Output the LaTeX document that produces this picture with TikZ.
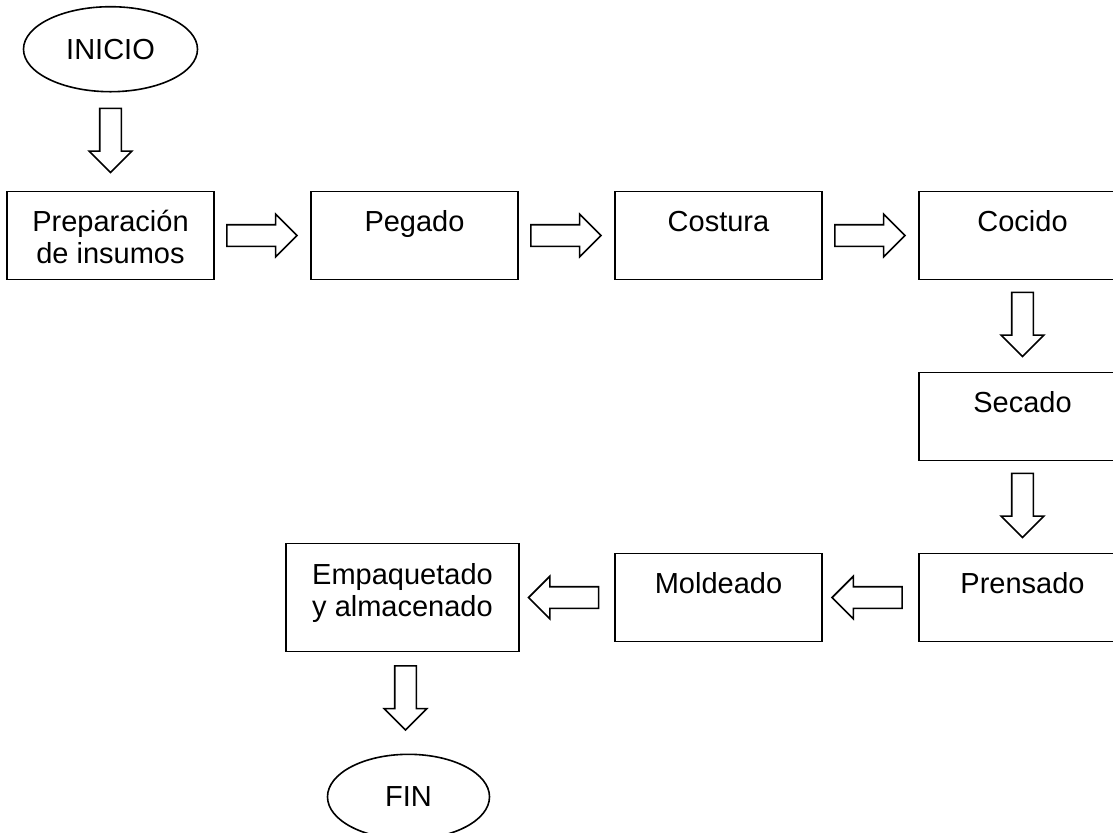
\documentclass[tikz,border=0pt]{standalone}
\usepackage{fontspec}
\setmainfont{Liberation Sans}
\usetikzlibrary{positioning,calc,shapes.geometric,shapes.arrows}

\begin{document}
\begin{tikzpicture}[font=\fontsize{14.5}{16}\selectfont,line width=0.8pt,node distance=48.5pt,
				stage/.style={draw,rectangle,minimum width=103.5pt,inner sep=0pt,outer sep=0pt,align=center,text height=20pt,text depth=24pt},
				twoline/.style={stage,text height=36pt,text depth=8pt},
				wide/.style={stage,minimum width=116.5pt,text height=36.5pt,text depth=17.5pt},
				term/.style={draw,ellipse,minimum height=42.5pt,inner sep=0pt},
				flow/.style={single arrow,draw,fill=white,inner sep=5pt,minimum height=35pt,single arrow head extend=5.25pt,single arrow head indent=0pt},
				fwd/.style={flow,xshift=-3pt},
				down/.style={flow,shape border rotate=270,minimum height=32pt,yshift=3.5pt},
				back/.style={flow,shape border rotate=180,xshift=1pt}]
				\useasboundingbox (0,0) rectangle (556.5pt,-416pt);
				\node (PREP)  [twoline] at (55.25pt,-117.75pt) {Preparación\\de insumos};
				\node (PEG)   [stage,right=of PREP]          {Pegado};
				\node (COST)  [stage,right=of PEG]           {Costura};
				\node (COC)   [stage,right=of COST]          {Cocido};
				\node (SEC)   [stage,below=46.5pt of COC]    {Secado};
				\node (PRENS) [stage,below=46.5pt of SEC]    {Prensado};
				\node (MOLD)  [stage,left=of PRENS]          {Moldeado};
				\node (EMP)   [wide,left=48pt of MOLD]       {Empaquetado\\y almacenado};
				\node (INI)   [term,minimum width=87pt,above=49.5pt of PREP] {INICIO};
				\node (FIN)   [term,minimum width=81pt,below=51pt of EMP,xshift=3pt] {FIN};
				
				\node (A) [down] at ($(INI.south)!0.5!(PREP.north)$) {};
				\node (B) [fwd]  at ($(PREP.east)!0.5!(PEG.west)$)   {};
				\node (C) [fwd]  at ($(PEG.east)!0.5!(COST.west)$)   {};
				\node (D) [fwd]  at ($(COST.east)!0.5!(COC.west)$)   {};
				\node (E) [down] at ($(COC.south)!0.5!(SEC.north)$)  {};
				\node (F) [down] at ($(SEC.south)!0.5!(PRENS.north)$) {};
				\node (G) [back] at ($(PRENS.west)!0.5!(MOLD.east)$) {};
				\node (H) [back] at ($(MOLD.west)!0.5!(EMP.east)$)   {};
				\node (I) [down,yshift=1.5pt] at ($(EMP.south)!0.5!(FIN.north)$) {};
			\end{tikzpicture}
\end{document}
